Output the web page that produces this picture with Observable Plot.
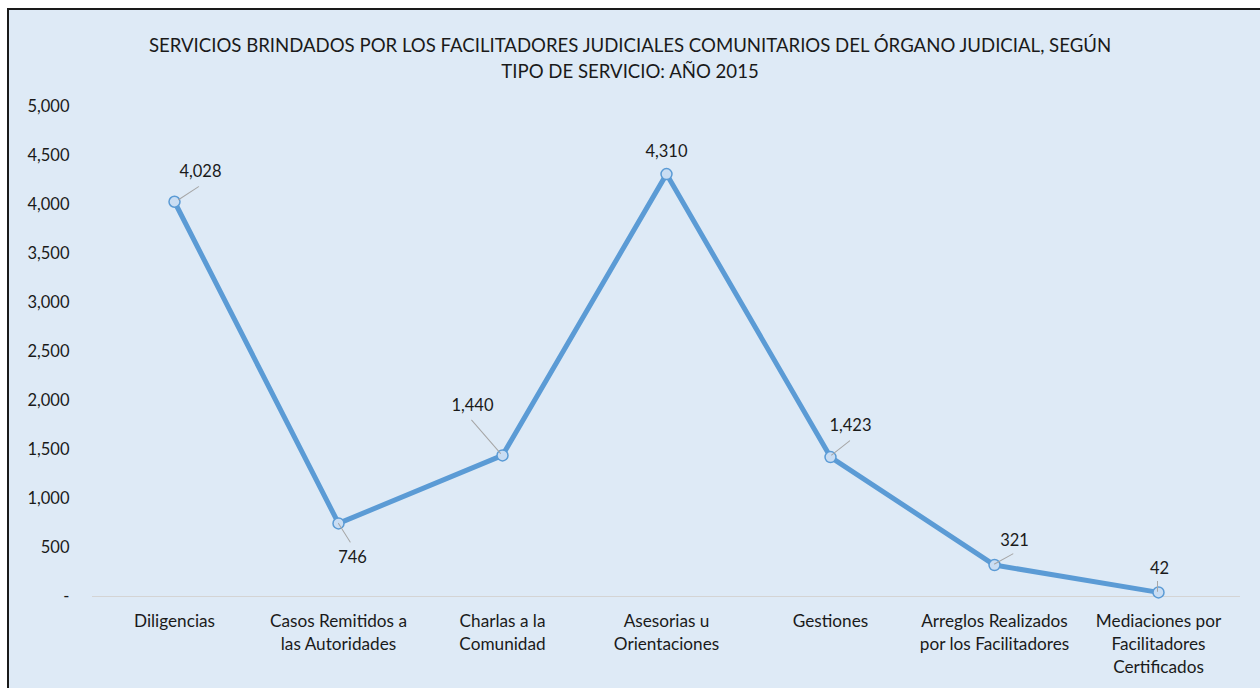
<!DOCTYPE html>
<html><head><meta charset="utf-8">
<script src="https://cdn.jsdelivr.net/npm/d3@7"></script>
<script src="https://cdn.jsdelivr.net/npm/@observablehq/plot@0.6"></script>
<style>
html,body{margin:0;padding:0;background:#fff;width:1260px;height:688px;overflow:hidden;font-family:Lato, sans-serif}
#frame{position:absolute;left:7px;top:8px;width:1270px;height:700px;border:2px solid #1a1a1a;background:#DEEAF6;box-sizing:border-box}
#title{position:absolute;left:0;top:32px;width:1260px;text-align:center;font-size:18.6px;line-height:26px;color:#1a1a1a}
#chart{position:absolute;left:0;top:0}
</style></head>
<body>
<div id="frame"></div>
<div id="title">SERVICIOS BRINDADOS POR LOS FACILITADORES JUDICIALES COMUNITARIOS DEL ÓRGANO JUDICIAL, SEGÚN<br>TIPO DE SERVICIO: AÑO 2015</div>
<div id="chart"></div>
<script>
// Data
const categories = ["Diligencias", "Casos Remitidos a las Autoridades", "Charlas a la Comunidad", "Asesorias u Orientaciones", "Gestiones", "Arreglos Realizados por los Facilitadores", "Mediaciones por Facilitadores Certificados"];
const tickLabels = ["Diligencias", "Casos Remitidos a\nlas Autoridades", "Charlas a la\nComunidad", "Asesorias u\nOrientaciones", "Gestiones", "Arreglos Realizados\npor los Facilitadores", "Mediaciones por\nFacilitadores\nCertificados"];
const values = [4028, 746, 1440, 4310, 1423, 321, 42];
const yTicks = [0, 500, 1000, 1500, 2000, 2500, 3000, 3500, 4000, 4500, 5000];

// Layout for data labels (pixel offsets) and leader lines
const labelOffsets = [[26, -30], [14, 34], [-30, -50], [0, -22], [20, -31], [20, -24], [1, -24]];
const leaders = [[4, -2, 24, 57], [0, 0, 22, 148], [-2, -2, 44, -41], null, [1, -2, 23, 52], [0, -1, 21, 61], [-1, -1, 10, 0]];

const data = categories.map((c, i) => ({cat: c, value: values[i]}));
const fmt = d3.format(",");
const leaderShape = {draw(ctx, l) { ctx.moveTo(0, 0); ctx.lineTo(0, -l); }};

const labelMarks = data.map((d, i) => Plot.text([d], {
  x: "cat", y: "value", text: dd => fmt(dd.value),
  dx: labelOffsets[i][0], dy: labelOffsets[i][1],
  fill: "#1a1a1a", fontSize: 16.5
}));
const leaderMarks = data.map((d, i) => leaders[i] ? Plot.vector([d], {
  x: "cat", y: "value", dx: leaders[i][0], dy: leaders[i][1],
  length: leaders[i][2], rotate: leaders[i][3], anchor: "start",
  shape: leaderShape, stroke: "#a6a6a6", strokeWidth: 1
}) : null).filter(Boolean);

const chart = Plot.plot({
  width: 1260, height: 688,
  marginLeft: 92, marginRight: 20, marginTop: 106, marginBottom: 92,
  style: {background: "transparent", fontFamily: "Lato, sans-serif", fontSize: "16.5px", color: "#1a1a1a", overflow: "visible"},
  x: {type: "point", domain: categories, padding: 0.5, label: null},
  y: {domain: [0, 5000], label: null},
  marks: [
    Plot.ruleY([0], {stroke: "#d4d4d4", strokeWidth: 1}),
    Plot.axisY({ticks: yTicks, tickSize: 0, tickPadding: 23, tickFormat: d => d === 0 ? "-" : fmt(d), label: null, fontSize: 16.5}),
    Plot.axisX({tickSize: 0, tickPadding: 14, tickFormat: (d, i) => tickLabels[categories.indexOf(d)], lineHeight: 1.35, label: null, fontSize: 17.2}),
    Plot.line(data, {x: "cat", y: "value", stroke: "#5B9BD5", strokeWidth: 5}),
    Plot.dot(data, {x: "cat", y: "value", r: 5.5, fill: "#C9DDF3", stroke: "#5B9BD5", strokeWidth: 1.5}),
    ...leaderMarks,
    ...labelMarks
  ]
});
document.getElementById("chart").appendChild(chart);
</script>
</body></html>
